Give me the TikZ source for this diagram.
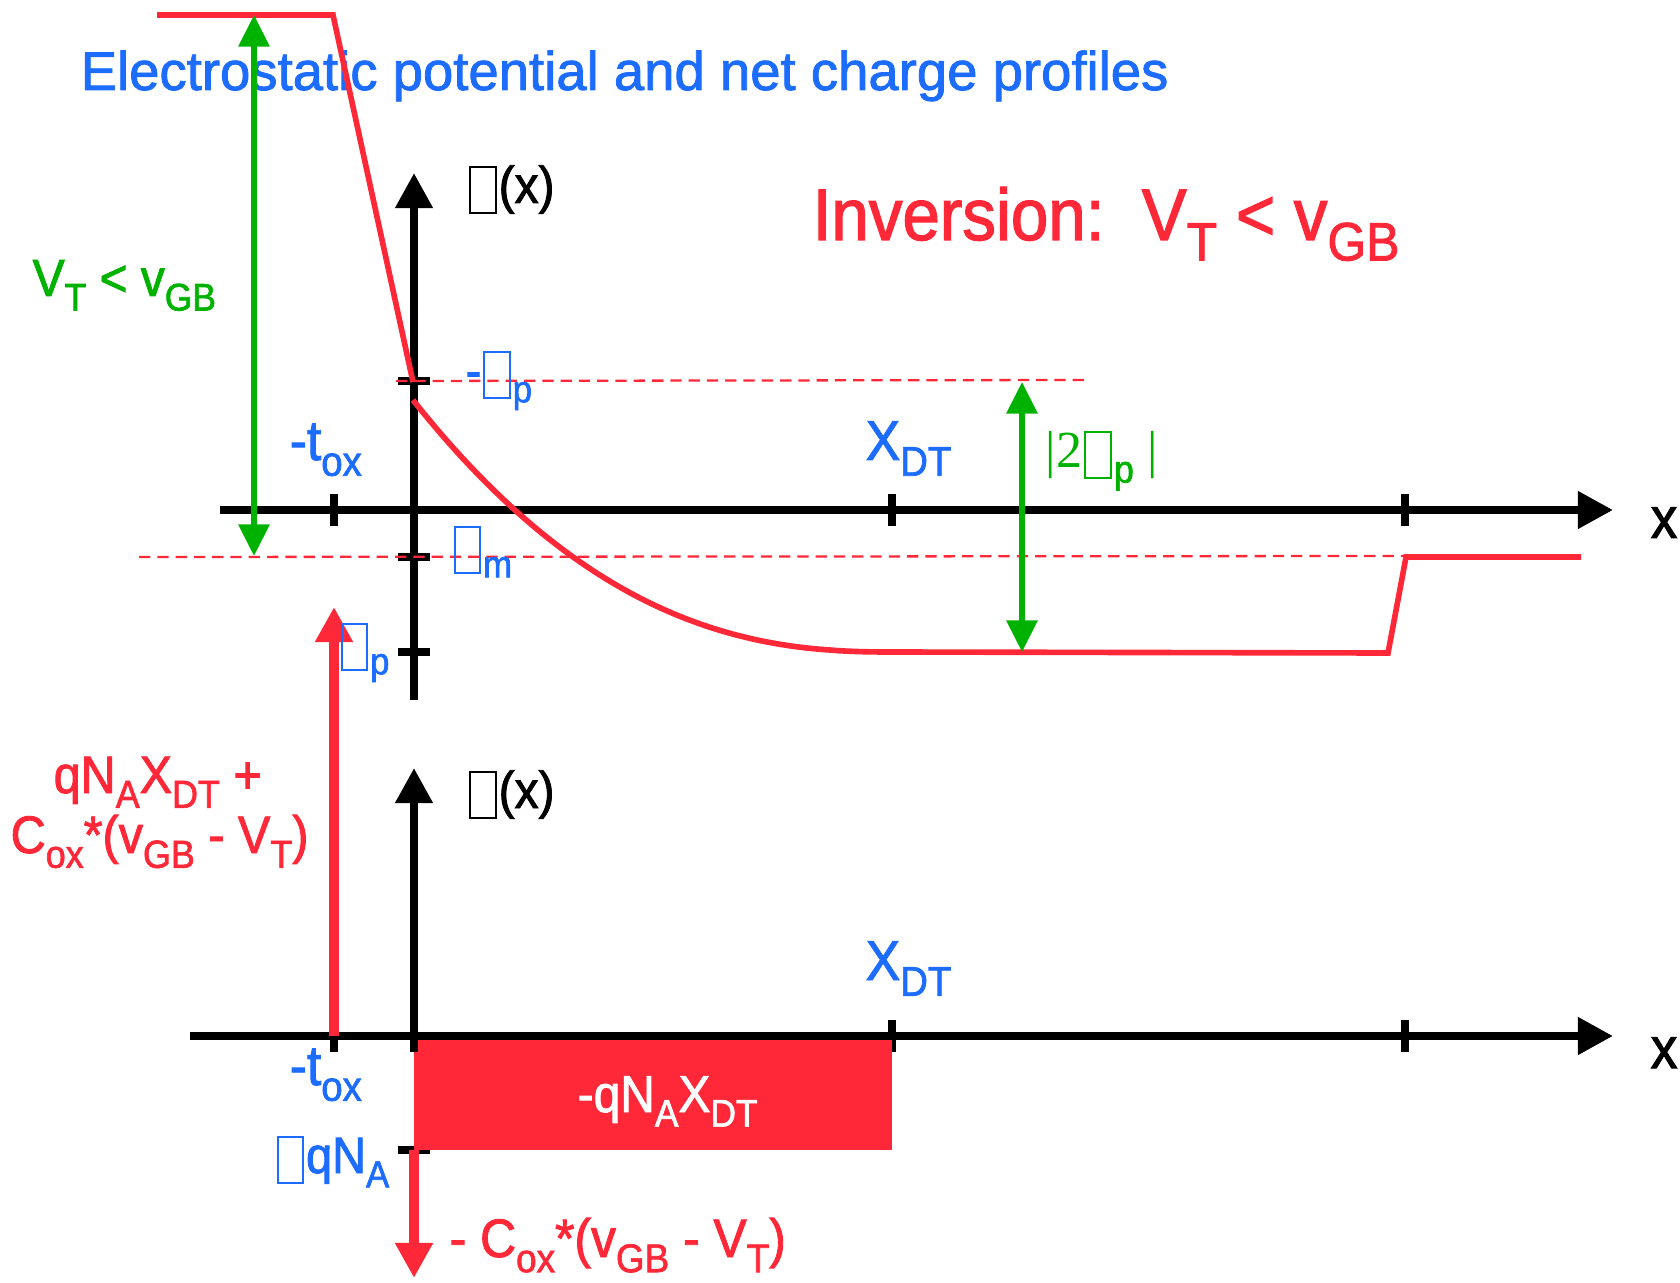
\documentclass[tikz,border=0pt]{standalone}
\usepackage{fontspec}
\setmainfont{Liberation Sans}[FakeBold=1.5]
\newfontfamily\narrowfont{Liberation Sans}[FakeStretch=0.92,FakeBold=1.7]
\newfontfamily\seriffont{Liberation Serif}
\usetikzlibrary{arrows.meta}

\definecolor{potred}{RGB}{255,40,56}
\definecolor{lblblue}{RGB}{28,108,255}
\definecolor{arrgreen}{RGB}{0,178,0}

\newcommand{\fs}[1]{\fontsize{#1}{#1}\selectfont}
\newcommand{\lo}[1]{\raisebox{-0.28em}{\scalebox{0.74}{#1}}}
\newcommand{\nbox}{{\setlength{\fboxsep}{0pt}\setlength{\fboxrule}{0.55pt}%
  \hspace{0.04em}\raisebox{-0.18em}{\fbox{\rule{0pt}{0.86em}\hspace{0.46em}}}\hspace{0.04em}}}

\tikzset{
  axis/.style={line width=2.3pt, -{Triangle[length=10pt,width=10.2pt]}},
  tickmark/.style={line width=2.3pt},
  potline/.style={potred, line width=1.6pt},
  refline/.style={potred, line width=0.65pt, dash pattern=on 3.2pt off 2pt},
  gaparrow/.style={arrgreen, line width=1.6pt,
    {Triangle[length=9pt,width=8.6pt]}-{Triangle[length=9pt,width=8.6pt]}},
  chgarrow/.style={potred, line width=2.6pt, -{Triangle[length=10pt,width=10.2pt]}},
  lbl/.style={inner sep=0pt, anchor=base west, font=\narrowfont\fs{#1}},
  lbl/.default=14.8pt
}

\begin{document}
\begin{tikzpicture}[x=0.01cm, y=-0.01cm]
\useasboundingbox (0,0) rectangle (1680,1283);

% Title
\node[inner sep=0pt, anchor=base west, font=\fs{15.5pt}, text=lblblue] (title) at (80,90)
  {Electrostatic potential and net charge profiles};

% Upper plot: potential
\coordinate (uxl) at (220,510);
\coordinate (uxr) at (1613,510);
\coordinate (uyb) at (414,700);
\coordinate (uyt) at (414,173);
\foreach \x in {334,892,1405}
  \draw[tickmark] (\x,494) -- (\x,526);
\foreach \y in {381,557,652}
  \draw[tickmark] (398,\y) -- (430,\y);
\draw[axis] (uxl) -- (uxr);
\draw[axis] (uyb) -- (uyt);

% Reference levels
\draw[refline] (396,381) -- (1086,380);
\draw[refline] (139,557) -- (1405,556);

% Potential profile
\draw[potline] (157,15) -- (333,15) -- (413,382);
\draw[potline] plot[domain=0:0.99, samples=60] ({413+479*\x}, {652-252*(1-\x)^2.4})
  -- (892,652) -- (1388,653) -- (1406,557) -- (1581,557);

% Green spans
\coordinate (gtop) at (254,15);
\coordinate (gbot) at (254,556);
\draw[gaparrow] (gbot) -- (gtop);
\coordinate (stop) at (1022,382);
\coordinate (sbot) at (1022,652);
\draw[gaparrow] (sbot) -- (stop);

% Lower plot: charge density
\coordinate (lxl) at (190,1036);
\coordinate (lxr) at (1613,1036);
\coordinate (lyb) at (414,1052);
\coordinate (lyt) at (414,768);
\foreach \x in {334,892,1405}
  \draw[tickmark] (\x,1020) -- (\x,1052);
\draw[tickmark] (398,1150) -- (430,1150);
\fill[potred] (414,1037) rectangle (892,1150);
\draw[axis] (lxl) -- (lxr);
\draw[axis] (lyb) -- (lyt);

% Sheet charges
\coordinate (gate) at (334,1036);
\coordinate (gtip) at (334,607);
\draw[chgarrow] (gate) -- (gtip);
\coordinate (inv) at (414,1150);
\coordinate (itip) at (414,1278);
\draw[chgarrow] (inv) -- (itip);

% Labels
\node[lbl=20.8pt, text=potred] (invlbl) at (812,240) {Inversion:\ \ V\lo{T} < v\lo{GB}};
\node[lbl, text=arrgreen] (vtlbl) at (32,296) {V\lo{T} < v\lo{GB}};
\node[lbl, text=black] (phix) at (466,203) {\nbox(x)};
\node[lbl, text=black] (rhox) at (466,808) {\nbox(x)};
\node[lbl=16.5pt, text=black] (xup) at (1650,538) {x};
\node[lbl=16.5pt, text=black] (xlow) at (1650,1068) {x};
\node[lbl=16pt, text=lblblue] (xdtup) at (865,460) {X\lo{DT}};
\node[lbl=16pt, text=lblblue] (xdtlow) at (865,980) {X\lo{DT}};
\node[lbl=16pt, text=lblblue] (toxup) at (289,460) {-t\lo{ox}};
\node[lbl=16pt, text=lblblue] (toxlow) at (289,1085) {-t\lo{ox}};
\node[lbl=14.5pt, text=lblblue] (mphip) at (465,388) {-\nbox\lo{p}};
\node[lbl=14.5pt, text=lblblue] (phim) at (451,563) {\nbox\lo{m}};
\node[lbl=14.5pt, text=lblblue] (phip) at (338,660) {\nbox\lo{p}};
\node[lbl=14.5pt, text=lblblue] (qna) at (274,1173) {\nbox qN\lo{A}};
\node[lbl, text=white] (qnxdt) at (577,1112) {-qN\lo{A}X\lo{DT}};
\node[lbl=15.4pt, text=potred] (coxlow) at (449,1257) {- C\lo{ox}*(v\lo{GB} - V\lo{T})};
\node[lbl=15pt, text=potred] (qnup) at (53,793) {qN\lo{A}X\lo{DT} +};
\node[lbl=15pt, text=potred] (coxup) at (10,853) {C\lo{ox}*(v\lo{GB} - V\lo{T})};
\node[lbl, text=arrgreen] (twophi) at (1045,468) {{\seriffont|2\nbox}\lo{p} {\seriffont|}};

\end{tikzpicture}
\end{document}
